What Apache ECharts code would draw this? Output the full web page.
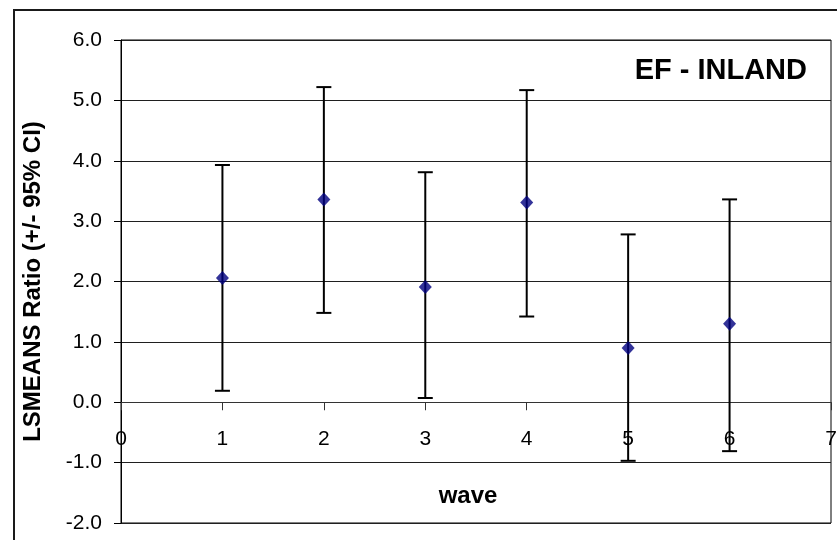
<!DOCTYPE html>
<html>
<head>
<meta charset="utf-8">
<style>
  html, body { margin: 0; padding: 0; background: #ffffff; }
  #chart { width: 837px; height: 540px; }
</style>
<script src="https://cdn.jsdelivr.net/npm/echarts@6/dist/echarts.min.js"></script>
</head>
<body>
<div id="chart"></div>
<script>
// LSMEANS ratio per wave with 95% confidence limits
const waves = [1, 2, 3, 4, 5, 6];
const means = [2.06, 3.36, 1.91, 3.31, 0.90, 1.30];
const lower = [0.19, 1.48, 0.07, 1.42, -0.97, -0.81];
const upper = [3.93, 5.22, 3.81, 5.17, 2.78, 3.36];

const chartTitle = 'EF - INLAND';
const xTitle = 'wave';
const yTitle = 'LSMEANS Ratio (+/- 95% CI)';

const Y_MIN = -2, Y_MAX = 6;
const FONT = "'Liberation Sans', Arial, sans-serif";

const GRID = { left: 121, top: 40, right: 6, bottom: 17 };
const plotHeight = 540 - GRID.top - GRID.bottom;
// the wave axis sits on the zero line: shift it up from the plot bottom
const zeroOffset = -plotHeight * (0 - Y_MIN) / (Y_MAX - Y_MIN);

const chart = echarts.init(document.getElementById('chart'), null, { renderer: 'canvas' });

const meanPoints = waves.map((w, i) => [w, means[i]]);
const ciPoints = waves.map((w, i) => [w, lower[i], upper[i]]);

// vertical whisker with a short cap at each end
function renderErrorBar(params, api) {
  const x = api.value(0);
  const lo = api.coord([x, api.value(1)]);
  const hi = api.coord([x, api.value(2)]);
  const half = 7.5;
  const style = { stroke: '#000000', lineWidth: 2 };
  return {
    type: 'group',
    children: [
      { type: 'line', shape: { x1: lo[0], y1: lo[1], x2: hi[0], y2: hi[1] }, style },
      { type: 'line', shape: { x1: hi[0] - half, y1: hi[1], x2: hi[0] + half, y2: hi[1] }, style },
      { type: 'line', shape: { x1: lo[0] - half, y1: lo[1], x2: lo[0] + half, y2: lo[1] }, style }
    ]
  };
}

chart.setOption({
  backgroundColor: '#ffffff',
  animation: false,
  title: {
    text: chartTitle,
    right: 25,
    top: 51,
    textStyle: { fontFamily: FONT, fontSize: 29, fontWeight: 'bold', color: '#000000' }
  },
  graphic: [
    {
      type: 'rect',
      shape: { x: 14, y: 10, width: 900, height: 700 },
      style: { fill: 'none', stroke: '#1a1a1a', lineWidth: 2 },
      silent: true,
      z: 0
    }
  ],
  grid: {
    left: GRID.left,
    top: GRID.top,
    right: GRID.right,
    bottom: GRID.bottom,
    containLabel: false,
    outerBoundsMode: 'none',
    show: true,
    borderColor: '#000000',
    borderWidth: 1,
    backgroundColor: 'transparent'
  },
  xAxis: {
    type: 'value',
    position: 'bottom',
    offset: zeroOffset,
    min: 0,
    max: 7,
    interval: 1,
    name: xTitle,
    nameLocation: 'middle',
    nameGap: 82,
    nameTextStyle: { fontFamily: FONT, fontSize: 24, fontWeight: 'bold', color: '#000000', padding: [0, 16, 0, 0] },
    axisLine: { show: true, onZero: false, lineStyle: { color: '#333333', width: 1 } },
    axisTick: { show: true, length: 8, lineStyle: { color: '#333333' } },
    axisLabel: {
      fontFamily: FONT, fontSize: 21, color: '#000000', margin: 26,
      showMinLabel: true, showMaxLabel: true
    },
    splitLine: { show: false }
  },
  yAxis: {
    type: 'value',
    min: Y_MIN,
    max: Y_MAX,
    interval: 1,
    name: yTitle,
    nameLocation: 'middle',
    nameRotate: 90,
    nameGap: 76,
    nameTextStyle: { fontFamily: FONT, fontSize: 24, fontWeight: 'bold', color: '#000000' },
    axisLine: { show: true, onZero: false, lineStyle: { color: '#000000', width: 1 } },
    axisTick: { show: true, length: 7, lineStyle: { color: '#000000' } },
    axisLabel: {
      fontFamily: FONT, fontSize: 21, color: '#000000', margin: 19,
      formatter: v => v.toFixed(1)
    },
    splitLine: { show: true, lineStyle: { color: '#1f1f1f', width: 1 } }
  },
  series: [
    {
      type: 'custom',
      name: 'CI',
      renderItem: renderErrorBar,
      data: ciPoints,
      encode: { x: 0, y: [1, 2] },
      clip: false,
      z: 3
    },
    {
      type: 'scatter',
      name: 'LSMEANS',
      data: meanPoints,
      symbol: 'diamond',
      symbolSize: [13, 14],
      itemStyle: { color: '#000080' },
      z: 5
    }
  ]
});
</script>
</body>
</html>
